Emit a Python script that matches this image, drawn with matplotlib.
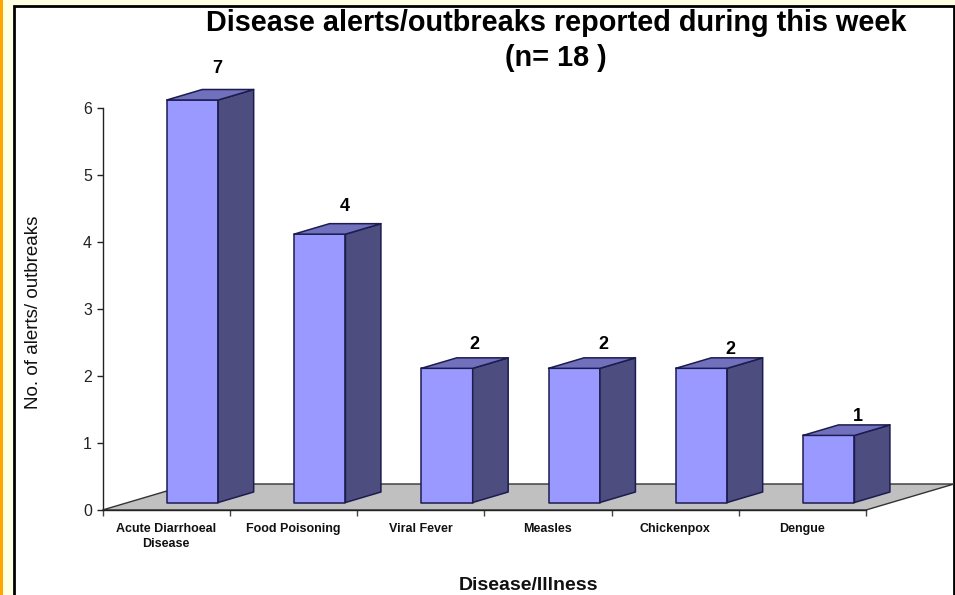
import numpy as np
import matplotlib
matplotlib.use("Agg")
import matplotlib.pyplot as plt
from matplotlib.patches import Polygon, Rectangle

categories = ["Acute Diarrhoeal\nDisease", "Food Poisoning", "Viral Fever", "Measles", "Chickenpox", "Dengue"]
alerts = [7, 4, 2, 2, 2, 1]
y_ticks = [0, 1, 2, 3, 4, 5, 6]
title_lines = ["Disease alerts/outbreaks reported during this week", "(n= 18 )"]
x_title = "Disease/Illness"
y_title = "No. of alerts/ outbreaks"

W, H = 955, 595
plt.rcParams["font.family"] = ["Liberation Sans", "DejaVu Sans"]
fig = plt.figure(figsize=(W / 100, H / 100), dpi=100, facecolor="#FFFFE3")

def px_rect(x0, y0, x1, y1, **kw):
    fig.add_artist(Rectangle((x0 / W, 1 - y1 / H), (x1 - x0) / W, (y1 - y0) / H,
                             transform=fig.transFigure, zorder=-2, **kw))

px_rect(0, 0, 3, H, facecolor="#FFA500", edgecolor="none")
px_rect(14, 6, 954, H + 5, facecolor="white", edgecolor="black", linewidth=2)

# plot area: x = 0..6 spans px 102.5..866, y = 0..6 spans px 510..107.5
L, R, B, T = 102.5, 866, 510, 107.5
ax = fig.add_axes([L / W, 1 - B / H, (R - L) / W, (B - T) / H], facecolor="none")
ymax = y_ticks[-1]
ax.set_xlim(0, len(categories))
ax.set_ylim(0, ymax)

ppx = len(categories) / (R - L)
ppy = ymax / (B - T)
DX, DY = 35.5 * ppx, 10.5 * ppy        # depth of bars
FX, FY = 88 * ppx, 26 * ppy            # depth of floor
LIFT = 7.5 * ppy
BAR_L, BAR_W = 0.505, 0.404
EDGE = "#1C1C50"

ax.add_patch(Polygon([(0, 0), (6, 0), (6 + FX, FY), (FX, FY)], closed=True, facecolor="#C0C0C0",
                     edgecolor="#333333", linewidth=1, clip_on=False, zorder=1))

label_off = [(-1, 21), (-1, 17), (2, 13), (3, 13), (3, 8), (3, 8)]
for i, v in enumerate(alerts):
    h = min(v, ymax)          # taller values are cut at the axis maximum, as in the original
    x0, x1 = i + BAR_L, i + BAR_L + BAR_W
    y0, y1 = LIFT, h + LIFT
    kw = dict(closed=True, edgecolor=EDGE, linewidth=1.1, clip_on=False, zorder=3, joinstyle="round")
    ax.add_patch(Polygon([(x0, y0), (x1, y0), (x1, y1), (x0, y1)], facecolor="#9999FF", **kw))
    ax.add_patch(Polygon([(x1, y0), (x1 + DX, y0 + DY), (x1 + DX, y1 + DY), (x1, y1)], facecolor="#4D4D80", **kw))
    ax.add_patch(Polygon([(x0, y1), (x1, y1), (x1 + DX, y1 + DY), (x0 + DX, y1 + DY)], facecolor="#7070BC", **kw))
    dx, dy = label_off[i]
    ax.annotate(str(v), (x1, y1 + DY), xytext=(dx * 0.72, dy * 0.72), textcoords="offset points",
                ha="center", va="center", fontsize=13, fontweight="bold", color="black",
                annotation_clip=False, zorder=5)

for s in ("top", "right"):
    ax.spines[s].set_visible(False)
for s in ("left", "bottom"):
    ax.spines[s].set_color("#222222")
    ax.spines[s].set_linewidth(1)
    ax.spines[s].set_zorder(2)

ax.set_yticks(y_ticks)
ax.tick_params(axis="y", length=4.5, width=1, color="#222222", labelsize=11.5, labelcolor="#222222", pad=3)
ax.set_xticks(range(len(categories) + 1))
ax.set_xticklabels([])
ax.tick_params(axis="x", length=4.5, width=1, color="#444444")
ax.set_xticks([i + 0.5 for i in range(len(categories))], minor=True)
ax.set_xticklabels(categories, minor=True, fontsize=9, fontweight="bold", color="#111111", linespacing=1.35)
ax.tick_params(axis="x", which="minor", length=0, pad=9.5)

fig.text(556 / W, 1 - 23 / H, title_lines[0], ha="center", va="center", fontsize=20.8, fontweight="bold", color="black")
fig.text(556 / W, 1 - 58 / H, title_lines[1], ha="center", va="center", fontsize=20.8, fontweight="bold", color="black")
fig.text(529 / W, 1 - 585.5 / H, x_title, ha="center", va="center", fontsize=14, fontweight="bold", color="#111111")
fig.text(34 / W, 1 - 312 / H, y_title, ha="center", va="center", rotation=90, fontsize=13.5, color="#111111")

fig.savefig("out.png", dpi=100, facecolor=fig.get_facecolor())
